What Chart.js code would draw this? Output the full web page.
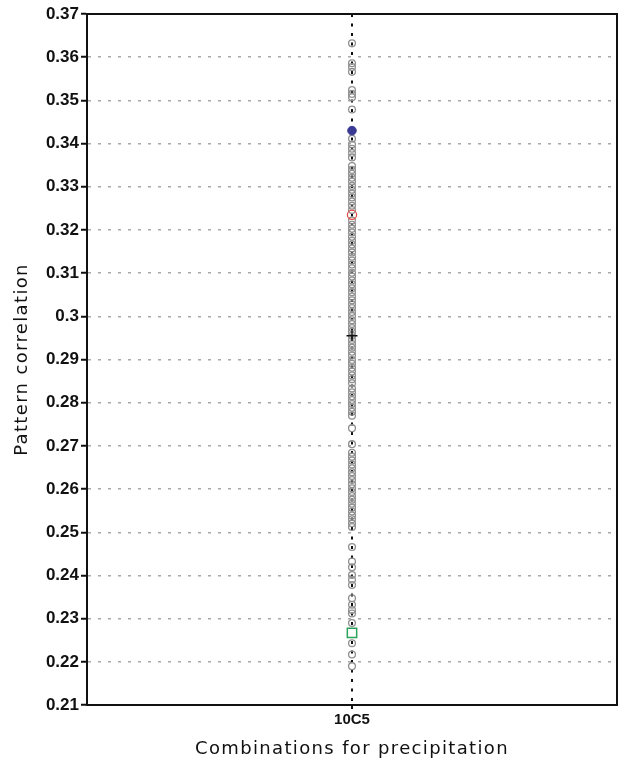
<!DOCTYPE html>
<html>
<head>
<meta charset="utf-8">
<script src="https://cdn.jsdelivr.net/npm/chart.js@4/dist/chart.umd.min.js"></script>
<style>
  html, body { margin: 0; padding: 0; background: #ffffff; overflow: hidden; }
  canvas { display: block; }
</style>
</head>
<body>
<canvas id="c" width="619" height="760"></canvas>
<script>
// ---- data ----
const categories = ["10C5"];
const categoryPosition = [1];
const yTicks = [0.21, 0.22, 0.23, 0.24, 0.25, 0.26, 0.27, 0.28, 0.29, 0.30, 0.31, 0.32, 0.33, 0.34, 0.35, 0.36, 0.37];

// grey open circles (individual combinations)
const memberValues = [
  0.3632, 0.3586, 0.3577, 0.3566, 0.3524, 0.3515, 0.3507, 0.3479,
  0.3411, 0.3398, 0.3388, 0.3378, 0.3368,
  0.3348, 0.3339, 0.3330, 0.3321, 0.3312, 0.3302, 0.3293, 0.3284, 0.3275, 0.3266, 0.3256, 0.3246,
  0.3222, 0.3212, 0.3203, 0.3194, 0.3184, 0.3175, 0.3166, 0.3157, 0.3148, 0.3138, 0.3129, 0.3120,
  0.3111, 0.3101, 0.3092, 0.3083, 0.3074, 0.3065, 0.3056, 0.3046, 0.3037, 0.3028, 0.3019, 0.3010,
  0.3001, 0.2991, 0.2982, 0.2973, 0.2964, 0.2955, 0.2945, 0.2936, 0.2927, 0.2918, 0.2909, 0.2899,
  0.2890, 0.2881, 0.2872, 0.2863, 0.2854, 0.2845,
  0.2833, 0.2824, 0.2815, 0.2806, 0.2797, 0.2788, 0.2779, 0.2770,
  0.2741, 0.2704, 0.2684, 0.2675, 0.2666, 0.2657, 0.2648, 0.2639, 0.2630, 0.2621, 0.2611, 0.2602,
  0.2593, 0.2584, 0.2575, 0.2566, 0.2557, 0.2548, 0.2539, 0.2530, 0.2521, 0.2512,
  0.2466, 0.2432, 0.2419, 0.2401, 0.2390, 0.2378, 0.2347, 0.2332, 0.2320, 0.2312, 0.2290,
  0.2243, 0.2217, 0.2190
];
const blueValue  = [0.3430];   // filled blue circle
const redValue   = [0.3235];   // open red circle
const plusValue  = [0.2955];   // black plus
const greenValue = [0.2267];   // open green square

const toPoints = vals => vals.map(v => ({ x: categoryPosition[0], y: v }));

// wider letter spacing for the axis titles (drawn in the grid layer, before tick labels)
const spacing = {
  id: 'spacing',
  beforeDraw(chart) { chart.ctx.letterSpacing = '1.35px'; },
  beforeDatasetsDraw(chart) { chart.ctx.letterSpacing = '0px'; }
};

const frame = {
  id: 'frame',
  afterDatasetsDraw(chart) {
    const { ctx, chartArea: a } = chart;
    ctx.save();
    ctx.strokeStyle = '#111';
    ctx.lineWidth = 2;
    ctx.beginPath();
    ctx.moveTo(a.left, a.top);
    ctx.lineTo(a.right, a.top);
    ctx.lineTo(a.right, a.bottom);
    ctx.stroke();
    ctx.restore();
  }
};

new Chart(document.getElementById('c'), {
  type: 'scatter',
  data: {
    datasets: [
      { label: 'members', data: toPoints(memberValues), pointStyle: 'circle', pointRadius: 3.4,
        borderColor: '#909090', backgroundColor: 'rgba(0,0,0,0)', borderWidth: 1.3, order: 5 },
      { label: 'blue', data: toPoints(blueValue), pointStyle: 'circle', pointRadius: 4.3,
        borderColor: '#3a3a94', backgroundColor: '#3a3a94', borderWidth: 1, order: 1 },
      { label: 'red', data: toPoints(redValue), pointStyle: 'circle', pointRadius: 4.6,
        borderColor: '#e5443c', backgroundColor: 'rgba(0,0,0,0)', borderWidth: 1.2, order: 1 },
      { label: 'plus', data: toPoints(plusValue), pointStyle: 'cross', pointRadius: 5.5,
        borderColor: '#111', backgroundColor: '#111', borderWidth: 1.4, order: 1 },
      { label: 'green', data: toPoints(greenValue), pointStyle: 'rect', pointRadius: 6.6,
        borderColor: '#2aa35a', backgroundColor: 'rgba(255,255,255,1)', borderWidth: 1.5, order: 1 }
    ]
  },
  options: {
    responsive: false,
    animation: false,
    devicePixelRatio: 1,
    layout: { autoPadding: false, padding: { top: 14, right: 2, bottom: 0, left: 0 } },
    plugins: { legend: { display: false }, tooltip: { enabled: false } },
    scales: {
      x: {
        type: 'linear',
        min: 0, max: 2,
        afterBuildTicks: s => { s.ticks = [0, 1, 2].map(v => ({ value: v })); },
        afterFit: s => { s.height = 55; s.paddingLeft = 0; s.paddingRight = 0; },
        ticks: {
          callback: v => (v === categoryPosition[0] ? categories[0] : ''),
          color: '#111',
          font: { family: 'Liberation Sans', size: 15, weight: 'bold' },
          padding: 2,
          maxRotation: 0, autoSkip: false,
          z: 1
        },
        grid: {
          color: c => (c.tick && c.tick.value === categoryPosition[0] ? '#111' : 'rgba(0,0,0,0)'),
          lineWidth: 2,
          tickColor: c => (c.tick && c.tick.value === categoryPosition[0] ? '#111' : 'rgba(0,0,0,0)'),
          tickLength: 4,
          tickWidth: 2
        },
        border: { display: true, color: '#111', width: 2, dash: [3, 6.5] },
        title: {
          display: true,
          text: 'Combinations for precipitation',
          color: '#111',
          font: { family: 'DejaVu Sans', size: 18 },
          padding: { top: 4, bottom: 0 }
        }
      },
      y: {
        type: 'linear',
        min: yTicks[0], max: yTicks[yTicks.length - 1],
        afterBuildTicks: s => { s.ticks = yTicks.map(v => ({ value: v })); },
        afterFit: s => { s.width = 87; },
        ticks: {
          callback: v => String(Number(v.toFixed(2))),
          color: '#111',
          font: { family: 'Liberation Sans', size: 17, weight: 'bold' },
          padding: 2,
          autoSkip: false,
          z: 1
        },
        grid: {
          color: '#a8a8a8',
          lineWidth: 1.5,
          tickColor: '#111',
          tickLength: 6,
          tickWidth: 2
        },
        border: { display: true, color: '#111', width: 2, dash: [3, 7] },
        title: {
          display: true,
          text: 'Pattern correlation',
          color: '#111',
          font: { family: 'DejaVu Sans', size: 18 },
          padding: { top: 12, bottom: 4 }
        }
      }
    }
  },
  plugins: [spacing, frame]
});
</script>
</body>
</html>
